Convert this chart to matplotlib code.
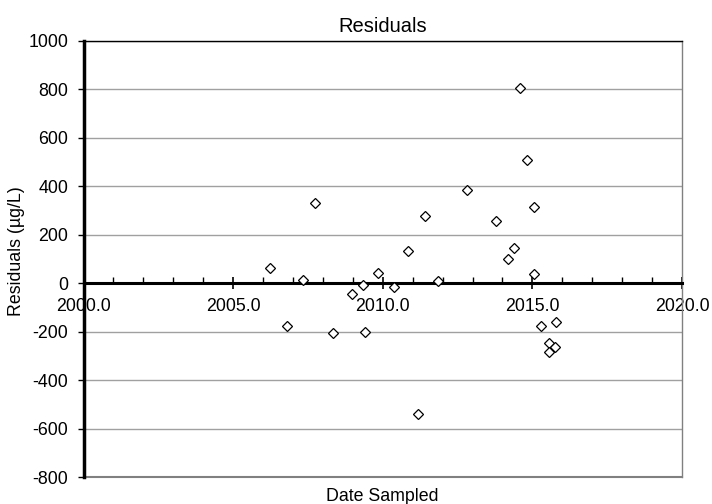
import matplotlib
matplotlib.use("Agg")
import numpy as np
from matplotlib import pyplot as plt
from matplotlib.ticker import MultipleLocator, FormatStrFormatter

plt.rcParams["font.family"] = ["Liberation Sans", "DejaVu Sans"]
plt.rcParams["axes.unicode_minus"] = False

# residuals
date_sampled = [2006.23, 2006.81, 2007.32, 2007.73, 2008.35, 2008.97, 2009.35,
                2009.42, 2009.85, 2010.36, 2010.85, 2011.19, 2011.40, 2011.83,
                2012.80, 2013.80, 2014.19, 2014.37, 2014.58, 2014.81, 2015.05,
                2015.06, 2015.28, 2015.79, 2015.56, 2015.75, 2015.56]
residuals = [62, -175, 14, 329, -205, -44, -7,
             -199, 41, -14, 133, -541, 277, 11,
             386, 256, 99, 146, 804, 510, 315,
             37, -178, -160, -247, -263, -285]

fig = plt.figure(figsize=(7.12, 5.04), dpi=100)
ax = fig.add_axes([83.5 / 712, 1 - 477.3 / 504, (682 - 83.5) / 712, (477.3 - 40.7) / 504])

ax.plot(date_sampled, residuals, linestyle="none", marker="D", markersize=4.6,
        markerfacecolor="white", markeredgecolor="black", markeredgewidth=0.9, zorder=5,
        clip_on=False)

ax.set_xlim(2000, 2020)
ax.set_ylim(-800, 1000)
ax.yaxis.set_major_locator(MultipleLocator(200))
ax.xaxis.set_major_locator(MultipleLocator(5))
ax.xaxis.set_minor_locator(MultipleLocator(1))
ax.xaxis.set_major_formatter(FormatStrFormatter("%.1f"))

ax.grid(axis="y", color="#a0a0a0", linewidth=1)
ax.set_axisbelow(True)

# x axis crosses at zero
ax.spines["bottom"].set_position(("data", 0))
ax.spines["bottom"].set_linewidth(2.2)
ax.spines["bottom"].set_zorder(3)
ax.spines["left"].set_linewidth(2.5)
ax.spines["top"].set_linewidth(1)
ax.spines["right"].set_color("#808080")
ax.spines["right"].set_linewidth(1)
ax.axhline(-800, color="#808080", linewidth=1.5, clip_on=False)

ax.tick_params(axis="x", which="major", direction="inout", length=9, width=1.2,
               labelsize=12.8, pad=6)
ax.tick_params(axis="x", which="minor", direction="in", length=4, width=1)
ax.tick_params(axis="y", which="major", direction="out", length=4, width=1,
               labelsize=12.8, pad=7)

ax.set_title("Residuals", fontsize=14.5, pad=6)
ax.set_xlabel("Date Sampled", fontsize=12.8)
ax.xaxis.set_label_coords(0.5, -0.025)
ax.set_ylabel("Residuals (µg/L)", fontsize=12.8)
ax.yaxis.set_label_coords(-0.098, 0.518)

fig.savefig("out.png", dpi=100)
